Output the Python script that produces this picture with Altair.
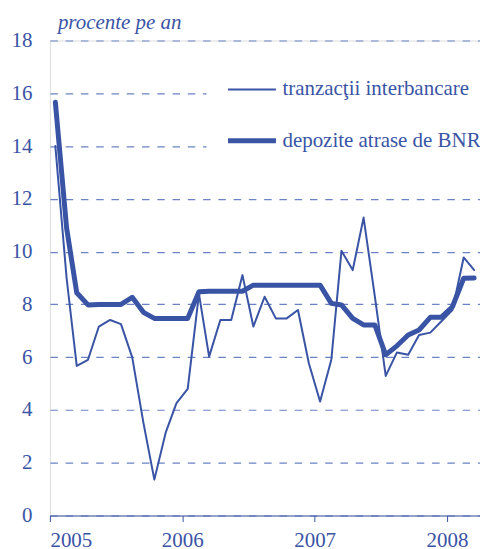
import altair as alt
import pandas as pd

BLUE = "#3a54a5"
GRID = "#6b82c4"
FONT = "Liberation Serif, Times New Roman, DejaVu Serif, serif"

# Months Jan 2005 .. Mar 2008 (plotted at mid-month)
months = [f"{y}-{m:02d}-16" for y in range(2005, 2009) for m in range(1, 13)][:39]

series_thin = "tranzacţii interbancare"
series_thick = "depozite atrase de BNR"

interbank = [
    14.0, 9.0, 5.67, 5.9, 7.16, 7.41, 7.25, 5.99, 3.5, 1.36, 3.13, 4.26,
    4.8, 8.4, 6.02, 7.41, 7.41, 9.11, 7.16, 8.29, 7.47, 7.47, 7.79, 5.77,
    4.32, 5.9, 10.03, 9.3, 11.29, 8.3, 5.29, 6.18, 6.09, 6.84, 6.93, 7.35,
    7.79, 9.78, 9.3,
]
bnr_deposits = [
    15.66, 10.9, 8.44, 7.98, 8.0, 8.0, 8.0, 8.27, 7.7, 7.47, 7.47, 7.47,
    7.47, 8.48, 8.5, 8.5, 8.5, 8.5, 8.73, 8.73, 8.73, 8.73, 8.73, 8.73,
    8.73, 8.04, 7.98, 7.47, 7.22, 7.22, 6.09, 6.43, 6.84, 7.03, 7.51, 7.51,
    7.91, 8.99, 9.0,
]

y_ticks = list(range(0, 19, 2))
x_years = [2005, 2006, 2007, 2008]

df = pd.concat([
    pd.DataFrame({"date": months, "value": interbank, "series": series_thin}),
    pd.DataFrame({"date": months, "value": bnr_deposits, "series": series_thick}),
])

chart = alt.Chart(df).mark_line(
    color=BLUE, strokeCap="round", strokeJoin="round"
).encode(
    x=alt.X(
        "date:T",
        scale=alt.Scale(domain=[alt.DateTime(year=2005, month=1, date=1),
                                alt.DateTime(year=2008, month=4, date=1)]),
        axis=alt.Axis(
            title=None, format="%Y", grid=False,
            values=[alt.DateTime(year=y, month=1, date=1) for y in x_years],
            domainColor=BLUE, domainWidth=1, tickColor=BLUE, tickSize=6,
            tickWidth=1, labelFont=FONT, labelFontSize=21, labelColor=BLUE,
            labelPadding=8,
        ),
    ),
    y=alt.Y(
        "value:Q",
        scale=alt.Scale(domain=[0, 18]),
        axis=alt.Axis(
            title=None, values=y_ticks, domain=False, ticks=False,
            grid=True, gridColor=GRID, gridDash=[7.5, 7.8], gridWidth=1.2,
            labelFont=FONT, labelFontSize=21, labelColor=BLUE, labelPadding=18,
        ),
    ),
    strokeWidth=alt.StrokeWidth(
        "series:N",
        scale=alt.Scale(domain=[series_thin, series_thick], range=[2, 5]),
        legend=alt.Legend(
            title=None, orient="none", legendX=157, legendY=5,
            symbolType="stroke", symbolSize=2304, symbolStrokeColor=BLUE,
            labelFont=FONT, labelFontSize=21, labelColor=BLUE, labelOffset=4,
            labelLimit=400, fillColor="white", padding=19, rowPadding=15,
        ),
    ),
    detail="series:N",
).properties(
    width=431,
    height=476,
    autosize=alt.AutoSizeParams(type="none"),
    padding={"left": 42, "top": 32, "right": 0, "bottom": 40},
    title=alt.Title(
        "procente pe an", anchor="start", frame="group", font=FONT,
        fontStyle="italic", fontWeight="normal", fontSize=21, color=BLUE,
        dx=8, offset=-3,
    ),
).configure_view(stroke=None).configure(background="white")

chart.save("out.html", embed_options={"renderer": "svg", "actions": False})
